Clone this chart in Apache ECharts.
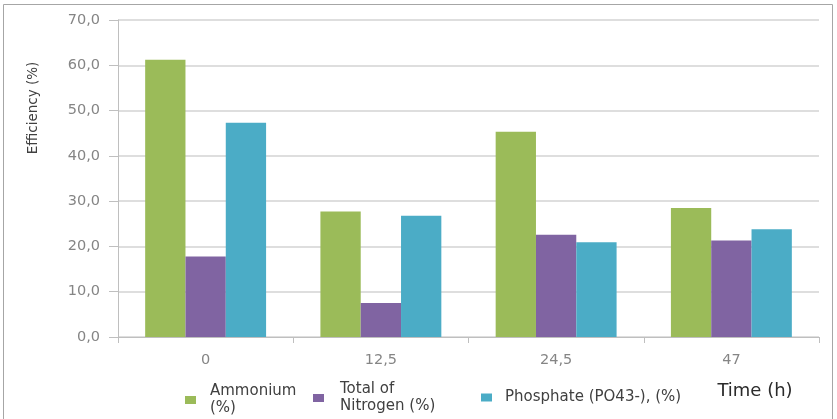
<!DOCTYPE html>
<html>
<head>
<meta charset="utf-8">
<script src="https://cdn.jsdelivr.net/npm/echarts@6/dist/echarts.min.js"></script>
<style>
  html, body { margin: 0; padding: 0; background: #fff; }
  #chart { width: 837px; height: 419px; }
</style>
</head>
<body>
<div id="chart"></div>
<script>
// Removal efficiency per sampling time
const times = ['0', '12,5', '24,5', '47'];
const ammonium = [61.2, 27.7, 45.3, 28.5];
const totalNitrogen = [17.8, 7.5, 22.6, 21.3];
const phosphate = [47.3, 26.8, 20.9, 23.8];
const yTicks = [0, 10, 20, 30, 40, 50, 60, 70];

const seriesNames = ['Ammonium\n(%)', 'Total of\nNitrogen (%)', 'Phosphate (PO43-), (%)'];
const colors = ['#9BBB59', '#8064A2', '#4BACC6'];

const FONT = 'DejaVu Sans, Verdana, sans-serif';
const chart = echarts.init(document.getElementById('chart'));

const fmt = v => v.toFixed(1).replace('.', ',');

function legendFor(name, left, top, padLeft, padTop) {
  return {
    data: [name],
    left: left,
    top: top,
    padding: 0,
    itemWidth: 11,
    itemHeight: 8,
    itemGap: 0,
    icon: 'rect',
    selectedMode: false,
    textStyle: {
      color: '#404040',
      fontSize: 15,
      fontFamily: FONT,
      lineHeight: 17,
      padding: [padTop, 0, 0, padLeft]
    }
  };
}

chart.setOption({
  animation: false,
  color: colors,
  grid: { left: 118, right: 18, top: 20, bottom: 82 },
  xAxis: {
    type: 'category',
    data: times,
    axisLine: { lineStyle: { color: '#bfbfbf', width: 1 } },
    axisTick: { show: true, length: 6, lineStyle: { color: '#bfbfbf' } },
    axisLabel: { color: '#858585', fontSize: 14.5, margin: 16, fontFamily: FONT }
  },
  yAxis: {
    type: 'value',
    min: yTicks[0],
    max: yTicks[yTicks.length - 1],
    interval: 10,
    axisLine: { show: true, lineStyle: { color: '#bfbfbf', width: 1 } },
    axisTick: { show: true, length: 9, lineStyle: { color: '#bfbfbf' } },
    axisLabel: { color: '#858585', fontSize: 14.5, margin: 18, formatter: fmt, fontFamily: FONT },
    splitLine: { lineStyle: { color: '#d3d3d3', width: 1.5 } }
  },
  legend: [
    legendFor(seriesNames[0], 185, 380, 9, 6),
    legendFor(seriesNames[1], 313, 378, 11, 6),
    legendFor(seriesNames[2], 481, 389, 8, 0)
  ],
  graphic: [
    {
      type: 'rect',
      shape: { x: 3.5, y: 4.5, width: 829, height: 440 },
      style: { fill: 'none', stroke: '#a6a6a6', lineWidth: 1 },
      silent: true
    },
    {
      type: 'text',
      x: 33,
      y: 108,
      rotation: Math.PI / 2,
      style: {
        text: 'Efficiency (%)',
        fill: '#404040',
        fontSize: 13.5,
        fontFamily: FONT,
        align: 'center',
        verticalAlign: 'middle'
      }
    },
    {
      type: 'text',
      x: 755,
      y: 391,
      style: {
        text: 'Time (h)',
        fill: '#2b2b2b',
        fontSize: 18,
        fontFamily: FONT,
        align: 'center',
        verticalAlign: 'middle'
      }
    }
  ],
  series: [
    { name: seriesNames[0], type: 'bar', data: ammonium, barGap: '0%', barCategoryGap: '31%' },
    { name: seriesNames[1], type: 'bar', data: totalNitrogen, barGap: '0%', barCategoryGap: '31%' },
    { name: seriesNames[2], type: 'bar', data: phosphate, barGap: '0%', barCategoryGap: '31%' }
  ]
});
</script>
</body>
</html>
